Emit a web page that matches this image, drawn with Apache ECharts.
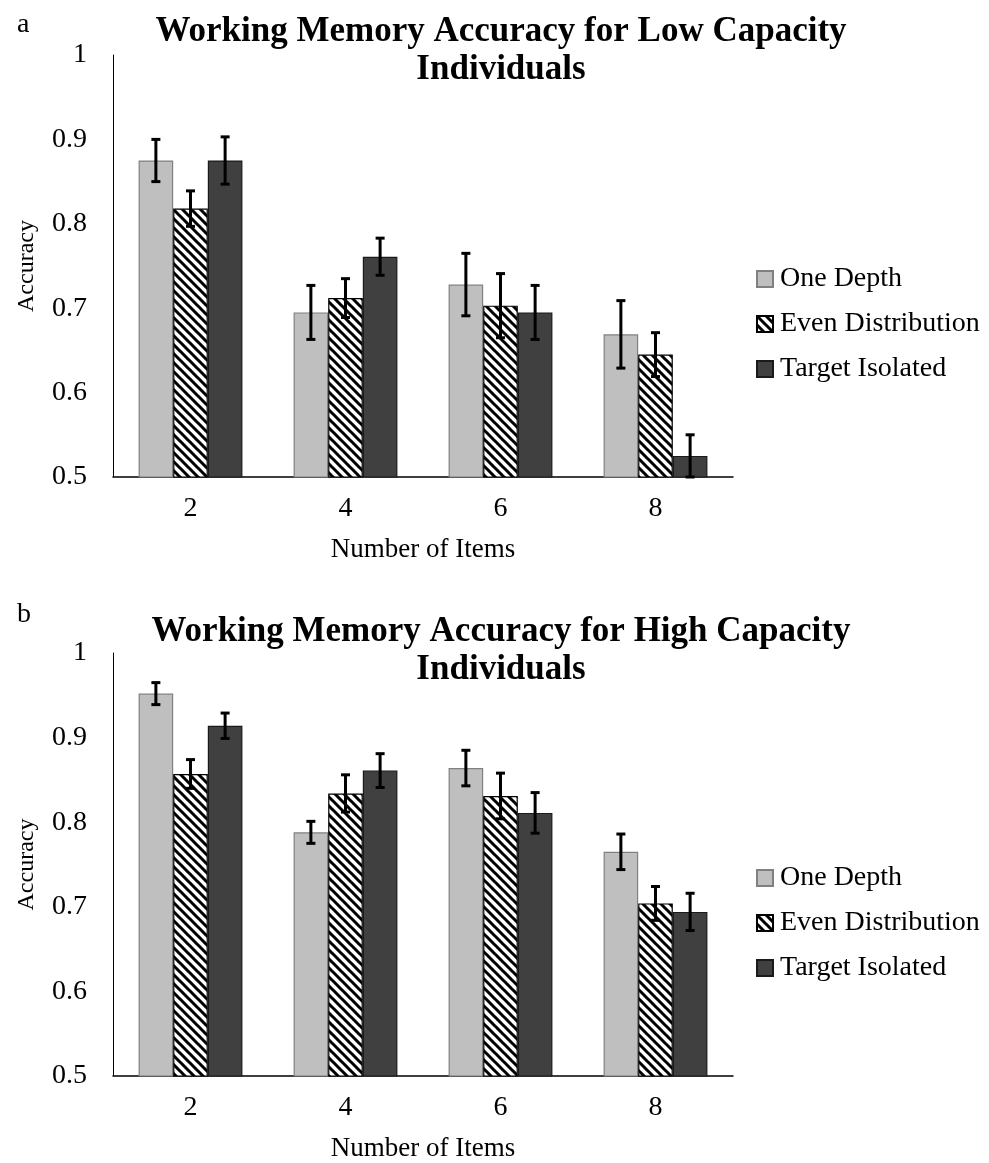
<!DOCTYPE html>
<html>
<head>
<meta charset="utf-8">
<script src="https://cdn.jsdelivr.net/npm/echarts@6/dist/echarts.min.js"></script>
<style>
html,body{margin:0;padding:0;background:#fff;}
#main{width:989px;height:1163px;}
</style>
</head>
<body>
<div id="main"></div>
<script>
//数据
var categories = ['2', '4', '6', '8'];
var seriesNames = ['One Depth', 'Even Distribution', 'Target Isolated'];
var yTicks = [0.5, 0.6, 0.7, 0.8, 0.9, 1];

// panel a - low capacity
var lowOne = [0.875, 0.695, 0.728, 0.669];
var lowOneErr = [0.025, 0.032, 0.037, 0.040];
var lowEven = [0.818, 0.712, 0.703, 0.645];
var lowEvenErr = [0.021, 0.023, 0.038, 0.026];
var lowTarget = [0.875, 0.761, 0.695, 0.525];
var lowTargetErr = [0.028, 0.022, 0.032, 0.025];

// panel b - high capacity
var highOne = [0.952, 0.788, 0.864, 0.765];
var highOneErr = [0.013, 0.013, 0.021, 0.021];
var highEven = [0.857, 0.834, 0.831, 0.704];
var highEvenErr = [0.017, 0.022, 0.027, 0.020];
var highTarget = [0.914, 0.861, 0.811, 0.694];
var highTargetErr = [0.015, 0.020, 0.024, 0.022];

var FONT = '"Liberation Serif", "Times New Roman", serif';
var GAP = 0.33;

//斜线填充
function hatch() {
	var s = 9;
	var cv = document.createElement('canvas');
	cv.width = s; cv.height = s;
	var ctx = cv.getContext('2d');
	ctx.fillStyle = '#fff';
	ctx.fillRect(0, 0, s, s);
	ctx.strokeStyle = '#000';
	ctx.lineWidth = 3;
	ctx.beginPath();
	ctx.moveTo(-s, -s); ctx.lineTo(2 * s, 2 * s);
	ctx.moveTo(-s, 0); ctx.lineTo(s, 2 * s);
	ctx.moveTo(0, -s); ctx.lineTo(2 * s, s);
	ctx.stroke();
	return { image: cv, repeat: 'repeat' };
}
var hatchFill = hatch();

var styles = [
	{ color: '#bfbfbf', borderColor: '#808080', borderWidth: 1.2 },
	{ color: hatchFill, borderColor: '#000', borderWidth: 1.2 },
	{ color: '#404040', borderColor: '#1a1a1a', borderWidth: 1.2 }
];

function errSeries(idx, vals, errs, gi) {
	var data = [];
	for (var i = 0; i < vals.length; i++) {
		data.push([i, vals[i], errs[i]]);
	}
	return {
		type: 'custom',
		xAxisIndex: gi,
		yAxisIndex: gi,
		z: 10,
		silent: true,
		data: data,
		encode: { x: 0, y: 1 },
		renderItem: function (params, api) {
			var x = api.value(0), v = api.value(1), e = api.value(2);
			var band = api.size([1, 0])[0];
			var bw = band * (1 - GAP) / 3;
			var c = api.coord([x, v]);
			var cx = c[0] + (idx - 1) * bw;
			var hi = api.coord([x, v + e])[1];
			var lo = api.coord([x, v - e])[1];
			var st = { stroke: '#000', lineWidth: 3 };
			return {
				type: 'group',
				children: [
					{ type: 'line', shape: { x1: cx, y1: hi, x2: cx, y2: lo }, style: st },
					{ type: 'line', shape: { x1: cx - 4.5, y1: hi, x2: cx + 4.5, y2: hi }, style: st },
					{ type: 'line', shape: { x1: cx - 4.5, y1: lo, x2: cx + 4.5, y2: lo }, style: st }
				]
			};
		}
	};
}

function barSeries(idx, vals, gi) {
	return {
		name: seriesNames[idx],
		type: 'bar',
		xAxisIndex: gi,
		yAxisIndex: gi,
		barGap: '0%',
		barCategoryGap: (GAP * 100) + '%',
		itemStyle: styles[idx],
		data: vals
	};
}

function xAxis(gi) {
	return {
		type: 'category',
		gridIndex: gi,
		data: categories,
		axisLine: { lineStyle: { color: '#000', width: 1.5 } },
		axisTick: { show: false },
		axisLabel: { color: '#000', fontFamily: FONT, fontSize: 28, margin: 18 },
		name: 'Number of Items',
		nameLocation: 'middle',
		nameGap: 59,
		nameTextStyle: { color: '#000', fontFamily: FONT, fontSize: 27 }
	};
}

function yAxis(gi) {
	return {
		type: 'value',
		gridIndex: gi,
		min: yTicks[0],
		max: yTicks[yTicks.length - 1],
		interval: 0.1,
		splitLine: { show: false },
		axisLine: { show: true, lineStyle: { color: '#000', width: 1 } },
		axisTick: { show: false },
		axisLabel: { color: '#000', fontFamily: FONT, fontSize: 28, margin: 26 },
		name: 'Accuracy',
		nameLocation: 'middle',
		nameGap: 74,
		nameTextStyle: { color: '#000', fontFamily: FONT, fontSize: 24 }
	};
}

function legend(top) {
	return {
		orient: 'vertical',
		left: 751,
		top: top,
		data: seriesNames,
		icon: 'rect',
		itemWidth: 16,
		itemHeight: 16,
		itemGap: 17,
		selectedMode: false,
		textStyle: { color: '#000', fontFamily: FONT, fontSize: 28, padding: [0, 0, 0, 2] }
	};
}

var titleStyle = { color: '#000', fontFamily: FONT, fontSize: 35, fontWeight: 'bold', lineHeight: 38 };
var letterStyle = { color: '#000', fontFamily: FONT, fontSize: 28, fontWeight: 'normal' };

var myChart = echarts.init(document.getElementById('main'));
var option = {
	backgroundColor: '#fff',
	animation: false,
	title: [
		{ text: 'a', left: 12, top: 6, textStyle: letterStyle },
		{ text: 'b', left: 12, top: 596, textStyle: letterStyle },
		{ text: 'Working Memory Accuracy for Low Capacity\nIndividuals', left: 496, top: 8, textAlign: 'center', textStyle: titleStyle },
		{ text: 'Working Memory Accuracy for High Capacity\nIndividuals', left: 496, top: 608, textAlign: 'center', textStyle: titleStyle }
	],
	legend: [legend(260), legend(859)],
	grid: [
		{ left: 113, top: 55, width: 620, height: 422 },
		{ left: 113, top: 653, width: 620, height: 424 }
	],
	xAxis: [xAxis(0), xAxis(1)],
	yAxis: [yAxis(0), yAxis(1)],
	series: [
		barSeries(0, lowOne, 0),
		barSeries(1, lowEven, 0),
		barSeries(2, lowTarget, 0),
		barSeries(0, highOne, 1),
		barSeries(1, highEven, 1),
		barSeries(2, highTarget, 1),
		errSeries(0, lowOne, lowOneErr, 0),
		errSeries(1, lowEven, lowEvenErr, 0),
		errSeries(2, lowTarget, lowTargetErr, 0),
		errSeries(0, highOne, highOneErr, 1),
		errSeries(1, highEven, highEvenErr, 1),
		errSeries(2, highTarget, highTargetErr, 1)
	]
};
myChart.setOption(option);
</script>
</body>
</html>
